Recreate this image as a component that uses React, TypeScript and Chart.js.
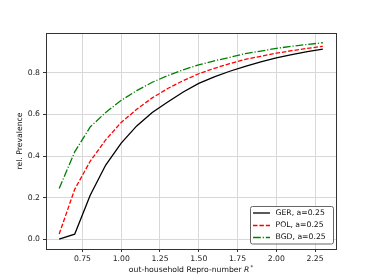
import React, { useEffect, useRef } from "react";
import { Chart, registerables } from "chart.js";

Chart.register(...registerables);

const xValues = [0.6, 0.7, 0.8, 0.9, 1.0, 1.1, 1.2, 1.3, 1.4, 1.5, 1.6, 1.7, 1.8, 1.9, 2.0, 2.1, 2.2, 2.3];
const gerValues = [0.0, 0.024, 0.212, 0.357, 0.462, 0.545, 0.61, 0.66, 0.708, 0.75, 0.781, 0.808, 0.832, 0.853, 0.872, 0.888, 0.902, 0.914];
const polValues = [0.025, 0.24, 0.375, 0.478, 0.562, 0.625, 0.68, 0.725, 0.763, 0.796, 0.822, 0.845, 0.865, 0.88, 0.895, 0.907, 0.918, 0.928];
const bgdValues = [0.244, 0.42, 0.54, 0.61, 0.668, 0.715, 0.755, 0.787, 0.815, 0.839, 0.858, 0.875, 0.893, 0.905, 0.918, 0.928, 0.937, 0.945];
const seriesLabels = ["GER, a=0.25", "POL, a=0.25", "BGD, a=0.25"];
const xTicks = [0.75, 1.0, 1.25, 1.5, 1.75, 2.0, 2.25];
const yTicks = [0.0, 0.2, 0.4, 0.6, 0.8];
const xTitle = "out-household Repro-number ";
const yTitle = "rel. Prevalence";

const FONT = "'DejaVu Sans', sans-serif";
const FS = 7.7;

const colors = ["#000000", "#ff0000", "#008000"];
const dashes: number[][] = [[], [4.5, 1.9], [7.8, 1.9, 1.2, 1.9]];

const overlayPlugin = {
  id: "overlay",
  afterDraw(chart: any) {
    const ctx = chart.ctx as CanvasRenderingContext2D;
    const a = chart.chartArea;
    ctx.save();
    // frame
    ctx.strokeStyle = "#333";
    ctx.lineWidth = 1;
    ctx.setLineDash([]);
    ctx.strokeRect(Math.round(a.left) + 0.5, Math.round(a.top) + 0.5, Math.round(a.right - a.left), Math.round(a.bottom - a.top));

    // x title with italic R and superscript *
    ctx.fillStyle = "#111";
    ctx.textBaseline = "middle";
    ctx.font = `${FS}px ${FONT}`;
    const w1 = ctx.measureText(xTitle).width;
    ctx.font = `italic ${FS}px ${FONT}`;
    const w2 = ctx.measureText("R").width;
    ctx.font = `${FS * 0.7}px ${FONT}`;
    const w3 = ctx.measureText("*").width;
    const total = w1 + w2 + w3 + 1;
    const cx = (a.left + a.right) / 2;
    let x0 = cx - total / 2;
    const ty = 270.5;
    ctx.textAlign = "left";
    ctx.font = `${FS}px ${FONT}`;
    ctx.fillText(xTitle, x0, ty);
    x0 += w1;
    ctx.font = `italic ${FS}px ${FONT}`;
    ctx.fillText("R", x0, ty);
    x0 += w2 + 1;
    ctx.font = `${FS * 0.7}px ${FONT}`;
    ctx.fillText("*", x0, ty - 3);

    // y title
    ctx.save();
    ctx.translate(20.5, (a.top + a.bottom) / 2);
    ctx.rotate(-Math.PI / 2);
    ctx.textAlign = "center";
    ctx.textBaseline = "middle";
    ctx.font = `${FS}px ${FONT}`;
    ctx.fillText(yTitle, 0, 0);
    ctx.restore();

    // legend
    const lx = 250.5, ly = 206.5, lw = 83, lh = 37.5, r = 2;
    ctx.beginPath();
    ctx.moveTo(lx + r, ly);
    ctx.lineTo(lx + lw - r, ly);
    ctx.arcTo(lx + lw, ly, lx + lw, ly + r, r);
    ctx.lineTo(lx + lw, ly + lh - r);
    ctx.arcTo(lx + lw, ly + lh, lx + lw - r, ly + lh, r);
    ctx.lineTo(lx + r, ly + lh);
    ctx.arcTo(lx, ly + lh, lx, ly + lh - r, r);
    ctx.lineTo(lx, ly + r);
    ctx.arcTo(lx, ly, lx + r, ly, r);
    ctx.closePath();
    ctx.fillStyle = "rgba(255,255,255,0.85)";
    ctx.fill();
    ctx.strokeStyle = "#666";
    ctx.lineWidth = 1;
    ctx.stroke();

    const rows = [213, 225.5, 237.5];
    seriesLabels.forEach((lab, i) => {
      ctx.beginPath();
      ctx.setLineDash(dashes[i]);
      ctx.strokeStyle = colors[i];
      ctx.lineWidth = 1.3;
      ctx.moveTo(253, rows[i]);
      ctx.lineTo(270, rows[i]);
      ctx.stroke();
      ctx.setLineDash([]);
      ctx.fillStyle = "#111";
      ctx.font = `${FS}px ${FONT}`;
      ctx.textAlign = "left";
      ctx.textBaseline = "middle";
      ctx.fillText(lab, 275.5, rows[i]);
    });
    ctx.restore();
  },
};

export default function App() {
  const ref = useRef<HTMLCanvasElement | null>(null);
  useEffect(() => {
    if (!ref.current) return;
    const series = [gerValues, polValues, bgdValues];
    const chart = new Chart(ref.current, {
      type: "line",
      data: {
        datasets: series.map((vals, i) => ({
          label: seriesLabels[i],
          data: xValues.map((x, j) => ({ x, y: vals[j] })),
          borderColor: colors[i],
          backgroundColor: colors[i],
          borderWidth: 1.3,
          borderDash: dashes[i],
          pointRadius: 0,
          tension: 0,
          fill: false,
        })),
      },
      options: {
        animation: false,
        responsive: false,
        maintainAspectRatio: false,
        layout: { padding: { top: 33, right: 38, left: 0, bottom: 0 } },
        plugins: { legend: { display: false }, tooltip: { enabled: false }, title: { display: false } },
        scales: {
          x: {
            type: "linear",
            min: 0.515,
            max: 2.385,
            afterBuildTicks: (s: any) => {
              s.ticks = xTicks.map((v) => ({ value: v }));
            },
            afterFit: (s: any) => {
              s.height = 31;
            },
            ticks: {
              callback: (v: any) => Number(v).toFixed(2),
              color: "#222",
              font: { family: FONT, size: FS },
              padding: 2,
              maxRotation: 0,
              autoSkip: false,
            },
            grid: { color: "#d8d8d8", lineWidth: 1, tickColor: "#333", tickLength: 3 },
            border: { display: false },
          },
          y: {
            type: "linear",
            min: -0.047,
            max: 0.992,
            afterBuildTicks: (s: any) => {
              s.ticks = yTicks.map((v) => ({ value: v }));
            },
            afterFit: (s: any) => {
              s.width = 46;
            },
            ticks: {
              callback: (v: any) => Number(v).toFixed(1),
              color: "#222",
              font: { family: FONT, size: FS },
              padding: 3,
              autoSkip: false,
            },
            grid: { color: "#d8d8d8", lineWidth: 1, tickColor: "#333", tickLength: 3 },
            border: { display: false },
          },
        },
      },
      plugins: [overlayPlugin],
    });
    return () => chart.destroy();
  }, []);
  return (
    <div style={{ position: "fixed", left: 0, top: 0, width: 374, height: 280, background: "#fff" }}>
      <canvas ref={ref} width={374} height={280} style={{ width: 374, height: 280 }} />
    </div>
  );
}
